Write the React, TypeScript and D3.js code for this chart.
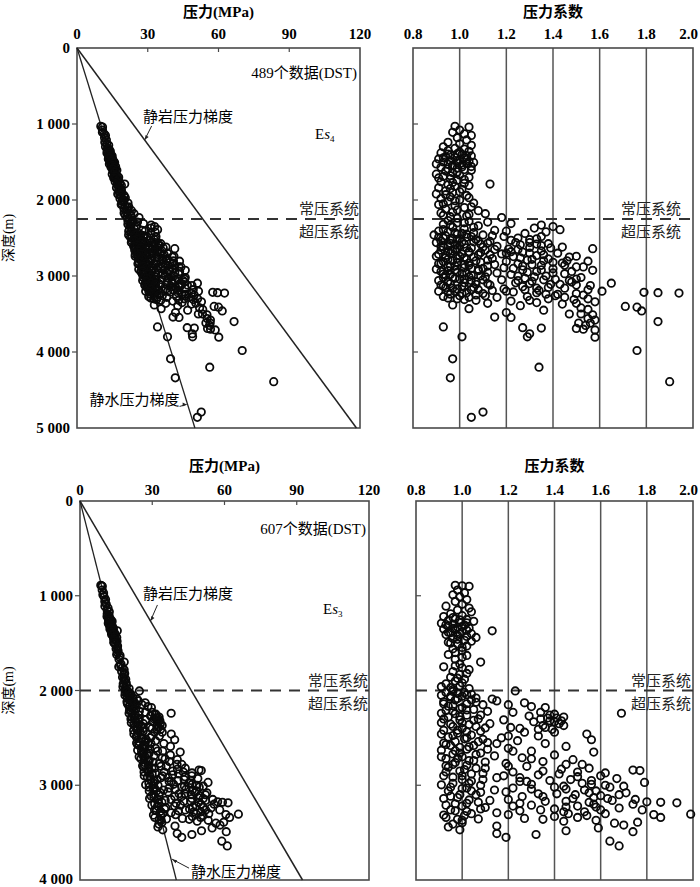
import * as d3 from 'd3'

// DST samples: [depth (m), pressure coefficient]
const es4Upper: [number, number][] = [
  [1030, 0.98], [1040, 1.04], [1080, 1.0], [1110, 0.97], [1130, 1.02], [1150, 1.05], [1180, 0.99], [1210, 1.03],
  [1240, 0.95], [1260, 1.0], [1280, 1.05], [1300, 0.93], [1320, 0.98], [1330, 1.02], [1350, 0.95], [1360, 1.04],
  [1380, 0.92], [1390, 0.99], [1400, 1.01], [1410, 0.96], [1420, 1.05], [1430, 0.94], [1440, 0.98], [1450, 1.02],
  [1460, 0.91], [1470, 1.0], [1480, 0.96], [1490, 1.04], [1500, 0.93], [1510, 0.99], [1520, 1.03], [1530, 0.95],
  [1540, 1.01], [1550, 0.97], [1560, 1.05], [1570, 0.92], [1580, 0.99], [1600, 1.02], [1620, 0.94], [1640, 0.97],
  [1660, 0.9], [1670, 1.0], [1690, 0.93], [1700, 1.04], [1720, 0.96], [1740, 0.99], [1760, 0.92], [1780, 1.02],
  [1790, 1.13], [1800, 0.95], [1820, 0.98], [1840, 0.91], [1860, 1.01], [1880, 0.94], [1900, 0.97], [1920, 0.9],
  [1940, 1.03], [1960, 0.96], [1980, 0.92], [2000, 1.0], [2020, 0.95], [2040, 1.06], [2060, 0.91], [2080, 0.98],
  [2100, 1.02], [2120, 0.94], [2140, 1.08], [2160, 0.97], [2180, 1.11], [2200, 0.93], [2210, 1.03], [2230, 1.18],
  [2240, 0.99], [1370, 1.0], [1395, 0.95], [1415, 1.03], [1445, 0.93], [1465, 1.03], [1485, 0.99], [1505, 1.06],
  [1525, 0.9], [1545, 0.97], [1565, 1.01], [1590, 0.95], [1610, 1.05], [1630, 0.99], [1680, 0.96], [1710, 0.91],
  [1730, 1.02], [1770, 0.97], [1810, 1.04], [1850, 0.96], [1890, 1.0], [1930, 0.94], [1970, 1.04], [2010, 0.98],
  [2050, 0.93], [2090, 1.05], [2130, 0.99], [2170, 0.92], [2190, 1.04], [2220, 0.96],
]

const es4Lower: [number, number][] = [
  [2270, 0.95], [2280, 1.04], [2290, 1.12], [2300, 0.99], [2310, 1.22], [2320, 0.93], [2330, 1.35], [2340, 1.08],
  [2350, 1.4], [2360, 0.97], [2370, 1.32], [2380, 1.02], [2390, 1.43], [2400, 1.15], [2410, 0.91], [2420, 1.37],
  [2430, 1.06], [2440, 1.28], [2450, 0.99], [2460, 1.1], [2470, 0.94], [2480, 1.19], [2490, 1.03], [2500, 1.25],
  [2505, 0.97], [2510, 1.33], [2520, 1.07], [2530, 1.22], [2540, 0.92], [2545, 1.13], [2550, 1.01], [2560, 1.24],
  [2570, 0.96], [2575, 1.38], [2580, 1.09], [2590, 1.26], [2600, 1.0], [2610, 1.16], [2620, 0.93], [2625, 1.3],
  [2630, 1.05], [2640, 1.57], [2645, 1.21], [2650, 0.98], [2660, 1.11], [2670, 1.35], [2680, 0.95], [2685, 1.27],
  [2690, 1.04], [2700, 1.42], [2710, 1.18], [2715, 0.91], [2720, 1.08], [2730, 1.33], [2740, 1.0], [2745, 1.23],
  [2750, 1.47], [2760, 0.94], [2770, 1.14], [2775, 1.38], [2780, 1.03], [2790, 1.29], [2800, 0.97], [2805, 1.55],
  [2810, 1.2], [2820, 1.09], [2830, 1.44], [2835, 0.92], [2840, 1.25], [2850, 1.02], [2860, 1.35], [2870, 1.12],
  [2875, 0.96], [2880, 1.5], [2890, 1.19], [2900, 1.05], [2905, 1.4], [2910, 0.9], [2920, 1.27], [2925, 1.57],
  [2930, 1.08], [2940, 1.33], [2950, 0.99], [2960, 1.16], [2970, 1.45], [2975, 0.93], [2980, 1.22], [2990, 1.05],
  [3000, 1.37], [3010, 1.11], [3015, 0.97], [3020, 1.52], [3030, 1.28], [3040, 1.02], [3045, 1.41], [3050, 1.18],
  [3060, 0.91], [3070, 1.31], [3075, 1.07], [3080, 1.48], [3090, 1.24], [3095, 1.65], [3100, 0.96], [3110, 1.39],
  [3120, 1.13], [3125, 1.56], [3130, 1.01], [3140, 1.27], [3150, 0.94], [3160, 1.45], [3170, 1.19], [3180, 1.05],
  [3190, 1.34], [3200, 1.61], [3205, 0.98], [3210, 1.23], [3215, 1.79], [3220, 1.85], [3225, 1.94], [3230, 1.1],
  [3240, 1.42], [3250, 1.53], [3260, 1.0], [3270, 1.29], [3280, 1.16], [3290, 0.95], [3300, 1.38], [3310, 1.49],
  [3320, 1.07], [3330, 1.22], [3340, 1.58], [3350, 1.33], [3360, 1.12], [3370, 1.44], [3380, 0.97], [3390, 1.26],
  [3400, 1.71], [3410, 1.76], [3420, 1.52], [3430, 1.04], [3450, 1.36], [3460, 1.78], [3480, 1.2], [3500, 1.47],
  [3510, 1.57], [3540, 1.15], [3545, 1.22], [3560, 1.55], [3600, 1.85], [3620, 1.51], [3650, 1.54], [3670, 0.93],
  [3680, 1.27], [3685, 1.35], [3690, 1.5], [3700, 1.53], [3710, 1.58], [3760, 1.3], [3800, 1.01], [3800, 1.29],
  [3805, 1.58], [3980, 1.76], [4090, 0.97], [4200, 1.34], [4340, 0.96], [4390, 1.9], [4790, 1.1], [4860, 1.05],
]

const es4Dense: [number, number][] = [
  [2420, 0.95], [2440, 1.01], [2460, 0.89], [2480, 1.05], [2500, 0.93], [2520, 0.99], [2540, 1.08], [2560, 0.9],
  [2580, 1.02], [2600, 0.95], [2620, 1.1], [2640, 0.99], [2660, 0.92], [2680, 1.04], [2700, 0.96], [2720, 1.13],
  [2740, 0.9], [2760, 1.02], [2780, 0.95], [2800, 1.07], [2820, 0.99], [2840, 0.91], [2860, 1.04], [2880, 0.95],
  [2900, 1.1], [2920, 0.98], [2940, 0.92], [2960, 1.03], [2980, 0.96], [3000, 1.09], [3020, 0.93], [3040, 1.0],
  [3060, 1.05], [3080, 0.95], [3100, 1.12], [3120, 0.92], [3140, 1.02], [3160, 0.97], [3180, 1.08], [3200, 0.91],
  [3220, 1.03], [3240, 0.96], [3260, 1.11], [3280, 1.04], [3300, 0.99], [2560, 1.3], [2600, 1.35], [2650, 1.25],
  [2700, 1.3], [2760, 1.26], [2800, 1.36], [2850, 1.31], [2900, 1.23], [2950, 1.29], [3000, 1.25], [3050, 1.36],
  [3100, 1.3], [3150, 1.38], [3180, 1.28], [3220, 1.33], [3260, 1.41], [2620, 1.44], [2700, 1.2], [2860, 1.45],
  [3060, 1.47], [2300, 1.02], [2330, 0.96], [2360, 1.06], [2390, 0.93], [2410, 1.2], [2430, 0.98], [2450, 1.03],
  [2470, 1.14], [2490, 0.91], [2510, 1.0], [2530, 0.96], [2550, 1.06], [2570, 1.12], [2590, 0.98], [2610, 0.92],
  [2630, 1.03], [2650, 1.15], [2670, 0.97], [2690, 1.09], [2710, 1.01], [2730, 0.94], [2750, 1.06], [2770, 0.99],
  [2790, 1.12], [2810, 0.93], [2830, 1.04], [2850, 1.15], [2870, 0.98], [2890, 1.02], [2910, 1.08], [2930, 0.95],
  [2950, 1.12], [2970, 1.01], [2990, 0.94], [3010, 1.04], [3030, 0.98], [3050, 1.1], [3070, 0.95], [3090, 1.02],
  [3110, 1.07], [3130, 0.93], [3150, 1.06], [3170, 0.99], [3190, 1.14], [3210, 0.95], [3230, 1.01], [3250, 1.07],
  [3270, 0.93], [3310, 1.02], [2480, 1.35], [2520, 1.3], [2580, 1.33], [2630, 1.39], [2680, 1.22], [2720, 1.36],
  [2780, 1.31], [2820, 1.4], [2870, 1.27], [2920, 1.35], [2960, 1.4], [3010, 1.32], [3060, 1.25], [3110, 1.43],
  [3160, 1.33], [3200, 1.2], [3240, 1.37], [3280, 1.45], [3320, 1.3], [2740, 1.5], [2800, 1.46], [2880, 1.53],
  [2940, 1.48], [3040, 1.5], [3120, 1.5], [3180, 1.55], [3230, 1.5], [3300, 1.55], [3360, 1.5], [3440, 1.55],
  [3580, 1.58], [3500, 1.52], [3620, 1.56],
]

const es3Upper: [number, number][] = [
  [890, 0.97], [895, 1.0], [900, 1.03], [940, 0.98], [970, 1.01], [990, 0.96], [1010, 0.99], [1040, 1.02],
  [1060, 0.97], [1090, 1.0], [1110, 0.93], [1130, 1.03], [1150, 0.98], [1170, 1.04], [1190, 0.95], [1210, 1.0],
  [1220, 0.92], [1240, 0.97], [1250, 1.02], [1260, 0.94], [1270, 1.05], [1280, 0.99], [1290, 0.91], [1300, 0.96],
  [1310, 1.01], [1320, 0.94], [1330, 0.98], [1340, 1.03], [1350, 0.92], [1360, 0.97], [1370, 1.13], [1380, 1.0],
  [1390, 0.95], [1400, 1.04], [1410, 0.93], [1420, 0.98], [1440, 1.06], [1450, 0.96], [1470, 1.01], [1490, 0.94],
  [1510, 0.98], [1530, 1.02], [1560, 0.96], [1580, 1.0], [1600, 0.97], [1630, 1.02], [1670, 0.97], [1700, 1.08],
  [1720, 0.99], [1750, 0.92], [1760, 1.0], [1780, 1.03], [1800, 0.96], [1830, 0.99], [1860, 0.95], [1880, 1.01],
  [1900, 0.97], [1930, 0.93], [1950, 0.99], [1960, 0.91], [1980, 1.03], [1990, 0.96], [1230, 0.96], [1255, 0.99],
  [1285, 1.02], [1305, 0.93], [1325, 1.0], [1345, 0.96], [1365, 1.02], [1385, 0.94], [1405, 0.99], [1430, 1.02],
  [1460, 0.98], [1480, 1.04], [1500, 0.95], [1545, 1.0], [1620, 0.94], [1650, 1.0], [1740, 0.97], [1820, 1.02],
  [1870, 0.98], [1920, 1.0], [1970, 0.95],
]

const es3Lower: [number, number][] = [
  [2005, 1.23], [2020, 0.93], [2030, 0.98], [2040, 1.04], [2050, 0.91], [2060, 1.0], [2070, 0.95], [2080, 1.06],
  [2090, 1.13], [2100, 0.97], [2110, 1.15], [2120, 0.92], [2130, 1.27], [2140, 1.02], [2150, 1.09], [2160, 0.96],
  [2170, 1.3], [2180, 1.36], [2190, 0.99], [2200, 1.05], [2210, 0.93], [2220, 1.11], [2230, 1.34], [2240, 1.69],
  [2245, 0.97], [2250, 1.4], [2260, 1.02], [2270, 1.29], [2280, 0.94], [2290, 1.37], [2300, 1.07], [2310, 0.99],
  [2320, 1.43], [2330, 1.31], [2340, 0.91], [2350, 1.12], [2360, 1.03], [2370, 1.35], [2380, 0.96], [2390, 1.21],
  [2400, 1.0], [2410, 1.39], [2420, 0.92], [2430, 1.08], [2440, 1.27], [2450, 0.98], [2460, 1.54], [2470, 1.04],
  [2480, 1.33], [2490, 0.94], [2500, 1.17], [2510, 1.01], [2520, 1.56], [2530, 1.24], [2540, 0.97], [2550, 1.11],
  [2560, 1.36], [2570, 0.93], [2580, 1.05], [2590, 1.45], [2600, 0.99], [2610, 1.2], [2620, 1.02], [2630, 0.91],
  [2640, 1.3], [2650, 1.57], [2660, 1.08], [2670, 0.96], [2680, 1.4], [2690, 1.14], [2700, 1.0], [2710, 1.26],
  [2720, 0.93], [2730, 1.48], [2740, 1.05], [2750, 1.35], [2760, 0.97], [2770, 1.19], [2780, 1.52], [2790, 1.02],
  [2800, 1.28], [2810, 0.94], [2820, 1.1], [2830, 1.43], [2840, 1.74], [2845, 1.77], [2850, 0.99], [2860, 1.22],
  [2870, 1.62], [2880, 1.04], [2890, 1.33], [2900, 0.92], [2910, 1.5], [2920, 1.15], [2930, 1.67], [2940, 1.0],
  [2950, 1.38], [2960, 1.25], [2970, 1.79], [2980, 0.96], [2990, 1.56], [3000, 1.08], [3010, 1.44], [3020, 1.64],
  [3030, 1.02], [3040, 1.3], [3050, 1.53], [3060, 0.94], [3070, 1.19], [3080, 1.71], [3090, 1.41], [3100, 1.06],
  [3110, 1.6], [3120, 1.26], [3130, 0.98], [3140, 1.48], [3150, 1.75], [3160, 1.12], [3170, 1.36], [3175, 1.8],
  [3180, 1.86], [3185, 1.93], [3190, 1.02], [3200, 1.57], [3210, 0.93], [3220, 1.22], [3230, 1.45], [3240, 1.68],
  [3250, 1.08], [3260, 1.34], [3270, 0.97], [3280, 1.53], [3290, 1.15], [3300, 1.62], [3305, 1.99], [3310, 1.83],
  [3320, 1.01], [3330, 1.4], [3340, 1.86], [3350, 1.27], [3360, 0.98], [3370, 1.58], [3380, 1.44], [3390, 1.76],
  [3400, 1.66], [3410, 0.96], [3420, 1.7], [3430, 1.15], [3450, 1.59], [3470, 0.99], [3480, 1.45], [3490, 1.74],
  [3510, 1.15], [3520, 1.32], [3550, 1.19], [3590, 1.64], [3640, 1.68],
]

const es3Dense: [number, number][] = [
  [2020, 1.01], [2060, 0.95], [2100, 1.04], [2140, 0.92], [2180, 1.0], [2220, 0.96], [2260, 1.08], [2300, 0.92],
  [2340, 1.0], [2380, 1.06], [2420, 0.98], [2460, 0.91], [2500, 1.02], [2540, 1.07], [2580, 0.95], [2620, 1.11],
  [2660, 0.99], [2700, 0.91], [2740, 1.03], [2780, 0.96], [2820, 1.06], [2860, 0.93], [2900, 1.0], [2940, 1.09],
  [2980, 1.03], [3020, 0.95], [3060, 1.04], [3100, 0.99], [3140, 0.92], [3180, 1.07], [3220, 1.0], [3260, 0.95],
  [3300, 1.04], [3340, 0.93], [3370, 1.0], [2780, 1.45], [2820, 1.55], [2860, 1.5], [2900, 1.6], [2940, 1.47],
  [2980, 1.52], [3020, 1.4], [3060, 1.58], [3100, 1.49], [3140, 1.63], [3180, 1.55], [3220, 1.5], [3260, 1.6],
  [3300, 1.46], [3030, 1.22], [3090, 1.33], [3150, 1.2], [3210, 1.3], [3270, 1.25], [2900, 1.18], [2960, 1.28],
  [3360, 1.35], [3340, 1.5], [2260, 1.38], [2280, 1.44], [2300, 1.34], [2320, 1.38], [2350, 1.42], [2390, 1.36],
  [2440, 1.4], [2010, 0.96], [2045, 1.02], [2085, 0.98], [2125, 1.06], [2165, 0.94], [2205, 1.02], [2240, 0.91],
  [2275, 0.99], [2315, 1.05], [2355, 0.95], [2395, 1.1], [2435, 1.02], [2475, 0.96], [2515, 1.09], [2555, 0.92],
  [2595, 1.03], [2635, 0.97], [2675, 1.06], [2715, 0.98], [2755, 1.1], [2795, 0.93], [2835, 1.01], [2875, 1.09],
  [2915, 0.96], [2955, 1.04], [2995, 0.91], [3035, 1.0], [3075, 1.08], [3115, 0.95], [3155, 1.03], [3195, 0.97],
  [3235, 1.1], [3275, 1.02], [3315, 0.92], [3355, 1.07], [3395, 1.0], [3440, 0.94], [2150, 1.2], [2230, 1.22],
  [2310, 1.18], [2400, 1.25], [2480, 1.2], [2560, 1.15], [2640, 1.22], [2720, 1.3], [2800, 1.2], [2850, 1.35],
  [2920, 1.25], [2990, 1.3], [3050, 1.14], [3120, 1.35], [3190, 1.25], [3250, 1.4], [3310, 1.2], [2880, 1.42],
  [2950, 1.56], [3000, 1.62], [3040, 1.45], [3080, 1.55], [3130, 1.57], [3170, 1.45], [3230, 1.58], [3280, 1.44],
  [3320, 1.54], [3010, 1.7], [3100, 1.68], [3200, 1.74], [3260, 1.78], [3160, 1.65], [2330, 1.4], [2370, 1.44],
  [2410, 1.33], [2290, 1.41],
]

const pressureTicks = [0, 30, 60, 90, 120]
const coefTicks = [0.8, 1.0, 1.2, 1.4, 1.6, 1.8, 2.0]
const es4DepthTicks = [0, 1000, 2000, 3000, 4000, 5000]
const es3DepthTicks = [0, 1000, 2000, 3000, 4000]
const sampleLabels = ['489个数据(DST)', '607个数据(DST)']
const formationSubs = ['4', '3']
const lithoGradients = [0.0237, 0.0231] // MPa/m
const hydroGradient = 0.01 // MPa/m
const boundaryDepths = [2250, 2000]

const FONT = "'Liberation Serif', 'Noto Sans CJK SC', serif"
const FRAME = '#4a4a4a'

const depthFmt = (d: number) =>
  d === 0 ? '0' : `${Math.floor(d / 1000)} ${String(d % 1000).padStart(3, '0')}`

type Row = {
  points: [number, number][]
  depthTicks: number[]
  label: string
  sub: string
  litho: number
  boundary: number
  top: number
  bottom: number
  lx: [number, number]
  rx: [number, number]
  titleY: number
  tickY: number
  lithoAt: number
  lithoText: [number, number]
  lithoLead: [number, number]
  hydroAt: number
  hydroBelow: boolean
  formPos: [number, number]
  countY: number
  rightLabelInset: number
}

const rows: Row[] = [
  {
    points: [...es4Upper, ...es4Lower, ...es4Dense],
    depthTicks: es4DepthTicks,
    label: sampleLabels[0],
    sub: formationSubs[0],
    litho: lithoGradients[0],
    boundary: boundaryDepths[0],
    top: 48, bottom: 428, lx: [77, 360], rx: [413, 693], titleY: 17, tickY: 39,
    lithoAt: 1210, lithoText: [143, 122], lithoLead: [7, -14],
    hydroAt: 4690, hydroBelow: false,
    formPos: [315, 139], countY: 78, rightLabelInset: 12,
  },
  {
    points: [...es3Upper, ...es3Lower, ...es3Dense],
    depthTicks: es3DepthTicks,
    label: sampleLabels[1],
    sub: formationSubs[1],
    litho: lithoGradients[1],
    boundary: boundaryDepths[1],
    top: 501, bottom: 880, lx: [80, 369], rx: [416, 693], titleY: 471, tickY: 495,
    lithoAt: 1266, lithoText: [143, 599], lithoLead: [7, -16],
    hydroAt: 3780, hydroBelow: true,
    formPos: [323, 614], countY: 534, rightLabelInset: 2,
  },
]

function RowPlots({ r }: { r: Row }) {
  const maxDepth = r.depthTicks[r.depthTicks.length - 1]
  const y = d3.scaleLinear().domain([0, maxDepth]).range([r.top, r.bottom])
  const xp = d3.scaleLinear().domain([0, 120]).range(r.lx)
  const xc = d3.scaleLinear().domain([0.8, 2.0]).range(r.rx)
  const by = y(r.boundary)

  const lithoEnd = Math.min(maxDepth, 120 / r.litho)
  const lithoA: [number, number] = [xp(r.litho * r.lithoAt), y(r.lithoAt)]
  const hydroA: [number, number] = [xp(hydroGradient * r.hydroAt), y(r.hydroAt)]
  const line = d3.line()

  const cjk = { fontFamily: FONT, fontSize: 15 }
  const boundaryLabels = (xr: number) => (
    <g style={cjk} textAnchor="end" fill="#222">
      <text x={xr} y={by - 5}>常压系统</text>
      <text x={xr} y={by + 18}>超压系统</text>
    </g>
  )
  const mark = { r: 3.7, fill: 'none', stroke: '#0a0a0a', strokeWidth: 1.8 }

  return (
    <g>
      {/* ---- left: pressure vs depth ---- */}
      <text x={(r.lx[0] + r.lx[1]) / 2} y={r.titleY} textAnchor="middle" fontFamily={FONT} fontSize={15} fontWeight="bold">
        压力(MPa)
      </text>
      {pressureTicks.map((t) => (
        <g key={t}>
          <text x={xp(t)} y={r.tickY} textAnchor="middle" fontFamily={FONT} fontSize={15} fontWeight="bold">{t}</text>
          {t > 0 && t < 120 && <line x1={xp(t)} x2={xp(t)} y1={r.top} y2={r.top + 4} stroke={FRAME} strokeWidth={1.2} />}
        </g>
      ))}
      {r.depthTicks.map((d) => (
        <g key={d}>
          <text x={r.lx[0] - 7} y={Math.min(y(d) + 5, 884)} textAnchor="end" fontFamily={FONT} fontSize={15} fontWeight="bold">{depthFmt(d)}</text>
          {d > 0 && d < maxDepth && <line x1={r.lx[0] - 5} x2={r.lx[0]} y1={y(d)} y2={y(d)} stroke={FRAME} strokeWidth={1.2} />}
        </g>
      ))}
      <text transform={`translate(10,${(r.top + r.bottom) / 2}) rotate(-90)`} textAnchor="middle" dominantBaseline="middle" fontFamily={FONT} fontSize={14}>
        深度(m)
      </text>
      <rect x={r.lx[0]} y={r.top} width={r.lx[1] - r.lx[0]} height={r.bottom - r.top} fill="none" stroke={FRAME} strokeWidth={1.6} />

      <path d={line([[xp(0), y(0)], [xp(r.litho * lithoEnd), y(lithoEnd)]]) ?? ''} stroke="#222" strokeWidth={1.5} fill="none" />
      <path d={line([[xp(0), y(0)], [xp(hydroGradient * maxDepth), y(maxDepth)]]) ?? ''} stroke="#222" strokeWidth={1.3} fill="none" />
      <line x1={r.lx[0]} x2={r.lx[1]} y1={by} y2={by} stroke="#333" strokeWidth={2} strokeDasharray="11 8" />

      {r.points.map(([d, c], i) => (
        <circle key={i} cx={xp(c * hydroGradient * d)} cy={y(d)} {...mark} />
      ))}

      <text x={r.lx[1] - 3} y={r.countY} textAnchor="end" style={cjk}>{r.label}</text>
      <text x={r.lithoText[0]} y={r.lithoText[1]} style={cjk}>静岩压力梯度</text>
      <line x1={lithoA[0] + r.lithoLead[0]} y1={lithoA[1] + r.lithoLead[1]} x2={lithoA[0]} y2={lithoA[1]} stroke="#222" strokeWidth={1} />
      <path d={`M${lithoA[0]},${lithoA[1]} l1,-5 l3,2 z`} fill="#222" />
      <text x={r.formPos[0]} y={r.formPos[1]} fontFamily={FONT} fontSize={15}>
        E<tspan fontStyle="italic">s</tspan>
        <tspan fontSize={9} dy={3}>{r.sub}</tspan>
      </text>
      {boundaryLabels(r.lx[1] - 1)}
      {r.hydroBelow ? (
        <g>
          <line x1={hydroA[0] + 1} y1={hydroA[1]} x2={hydroA[0] + 18} y2={hydroA[1] + 9} stroke="#222" strokeWidth={1} />
          <path d={`M${hydroA[0] + 1},${hydroA[1]} l5,1 l-1.5,3 z`} fill="#222" />
          <text x={hydroA[0] + 20} y={r.bottom - 3} style={cjk}>静水压力梯度</text>
        </g>
      ) : (
        <g>
          <text x={hydroA[0] - 8} y={hydroA[1] + 1} textAnchor="end" style={cjk}>静水压力梯度</text>
          <line x1={hydroA[0] - 8} y1={hydroA[1] + 2} x2={hydroA[0] - 1} y2={hydroA[1]} stroke="#222" strokeWidth={1} />
          <path d={`M${hydroA[0] - 1},${hydroA[1]} l-4,-2 l0,4 z`} fill="#222" />
        </g>
      )}

      {/* ---- right: pressure coefficient vs depth ---- */}
      <text x={(r.rx[0] + r.rx[1]) / 2} y={r.titleY} textAnchor="middle" fontFamily={FONT} fontSize={15} fontWeight="bold">
        压力系数
      </text>
      {coefTicks.map((t, i) => {
        const last = i === coefTicks.length - 1
        return (
          <g key={t}>
            <text x={last ? 698 : xc(t)} y={r.tickY} textAnchor={last ? 'end' : 'middle'} fontFamily={FONT} fontSize={15} fontWeight="bold">
              {t.toFixed(1)}
            </text>
            {t > 0.8 && t < 2.0 && <line x1={xc(t)} x2={xc(t)} y1={r.top} y2={r.bottom} stroke="#555" strokeWidth={1.5} />}
          </g>
        )
      })}
      {r.depthTicks.filter((d) => d > 0 && d < maxDepth).map((d) => (
        <line key={d} x1={r.rx[0]} x2={r.rx[0] + 5} y1={y(d)} y2={y(d)} stroke={FRAME} strokeWidth={1.2} />
      ))}
      <rect x={r.rx[0]} y={r.top} width={r.rx[1] - r.rx[0]} height={r.bottom - r.top} fill="none" stroke={FRAME} strokeWidth={1.6} />
      <line x1={r.rx[0]} x2={r.rx[1]} y1={by} y2={by} stroke="#333" strokeWidth={2} strokeDasharray="11 8" />
      {r.points.map(([d, c], i) => (
        <circle key={i} cx={xc(c)} cy={y(d)} {...mark} />
      ))}
      {boundaryLabels(r.rx[1] - r.rightLabelInset)}
    </g>
  )
}

export default function App() {
  return (
    <svg width={700} height={887} style={{ position: 'absolute', left: 0, top: 0, background: '#fff' }}>
      {rows.map((r, i) => (
        <RowPlots key={i} r={r} />
      ))}
    </svg>
  )
}
